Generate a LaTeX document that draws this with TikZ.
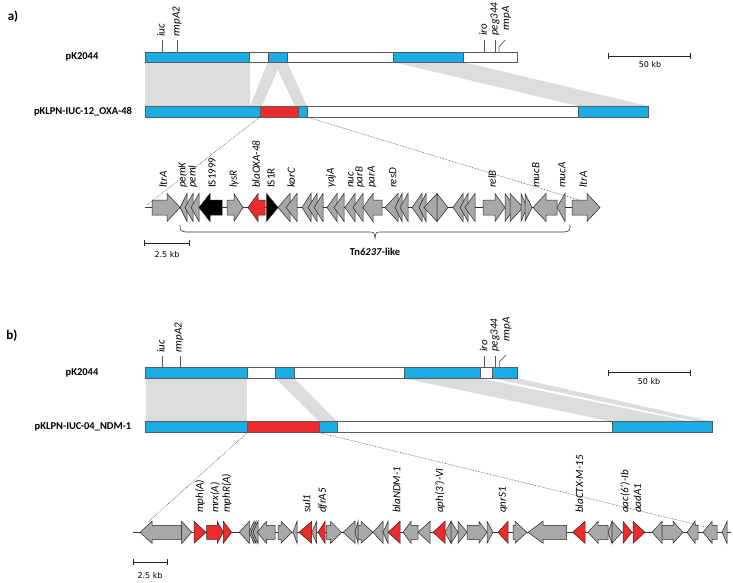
\documentclass[tikz,border=0pt]{standalone}
\usepackage{fontspec}
\setmainfont{Carlito}
\newfontfamily\scalefont{DejaVu Sans}
\usetikzlibrary{arrows.meta}
\definecolor{pblue}{HTML}{1AADE3}
\definecolor{pred}{HTML}{EE2B2B}
\definecolor{ggray}{HTML}{A8A8A8}
\definecolor{shgray}{HTML}{DCDCDC}
\definecolor{outl}{HTML}{5A5A5A}
\newcommand\genF[4]{\filldraw[gene,fill=#4] (#1,\yc-\bh) -- (#2-#3,\yc-\bh) -- (#2-#3,\yc-\hh) -- (#2,\yc) -- (#2-#3,\yc+\hh) -- (#2-#3,\yc+\bh) -- (#1,\yc+\bh) -- cycle;}
\newcommand\genR[4]{\filldraw[gene,fill=#4] (#1,\yc) -- (#1+#3,\yc-\hh) -- (#1+#3,\yc-\bh) -- (#2,\yc-\bh) -- (#2,\yc+\bh) -- (#1+#3,\yc+\bh) -- (#1+#3,\yc+\hh) -- cycle;}
\newcommand\triF[3]{\filldraw[gene,fill=#3] (#1,\yc-\hh) -- (#2,\yc) -- (#1,\yc+\hh) -- cycle;}
\newcommand\triR[3]{\filldraw[gene,fill=#3] (#2,\yc-\hh) -- (#1,\yc) -- (#2,\yc+\hh) -- cycle;}
\tikzset{
  bar/.style={draw=outl, line width=0.8pt},
  gene/.style={draw=black!85, line width=0.5pt},
  bb/.style={draw=black!80, line width=0.6pt},
  tick/.style={draw=outl, line width=0.7pt},
  dots/.style={draw=black!70, densely dotted, line width=0.6pt},
  glab/.style={font=\itshape\fontsize{11}{12}\selectfont, rotate=90, anchor=west, inner sep=0pt},
  glabup/.style={glab, font=\upshape\fontsize{11}{12}\selectfont},
  plab/.style={font=\bfseries\fontsize{10.5}{12}\selectfont, inner sep=0pt},
  slab/.style={font=\scalefont\fontsize{8}{10}\selectfont, inner sep=0pt},
  sbar/.style={{Bar[width=6pt]}-{Bar[width=6pt]}, line width=0.8pt, draw=black!85},
}
\begin{document}
\begin{tikzpicture}[x=1pt,y=-1pt]
\useasboundingbox (0,0) rectangle (733,582);
% ================= panel a =================
\node[font=\bfseries\fontsize{13}{15}\selectfont] (la) at (13,17) {a)};
% shading
\fill[shgray] (145,62) rectangle (250,106);
\fill[shgray] (268,62) -- (281,62) -- (262,106) -- (250,106) -- cycle;
\fill[shgray] (274,62) -- (287,62) -- (307,106) -- (295,106) -- cycle;
\fill[shgray] (393,62) -- (463,62) -- (648,106) -- (578,106) -- cycle;
% top bar
\filldraw[bar,fill=pblue] (145,52) rectangle (249,62);
\filldraw[bar,fill=white] (249,52) rectangle (268,62);
\filldraw[bar,fill=pblue] (268,52) rectangle (287,62);
\filldraw[bar,fill=white] (287,52) rectangle (393,62);
\filldraw[bar,fill=pblue] (393,52) rectangle (463,62);
\filldraw[bar,fill=white] (463,52) rectangle (517,62);
% bottom bar
\filldraw[bar,fill=pblue] (145,106) rectangle (260,117);
\filldraw[bar,fill=pred] (260,106) rectangle (298,117);
\filldraw[bar,fill=pblue] (298,106) rectangle (307,117);
\filldraw[bar,fill=white] (307,106) rectangle (578,117);
\filldraw[bar,fill=pblue] (578,106) rectangle (648,117);
\node[plab] (pa1) at (82,57) {pK2044};
\node[plab] (pa2) at (83,111.5) {pKLPN-IUC-12\_OXA-48};
% ticks
\draw[tick] (162.3,40) -- (162.3,52);
\draw[tick] (177.7,40) -- (177.7,52);
\draw[tick] (484,40) -- (484,52);
\draw[tick] (495.7,40) -- (495.7,52);
\draw[tick] (499,52) -- (499,47) -- (505,40);
\node[glab] at (161,37) {iuc};
\node[glab] at (177,37) {rmpA2};
\node[glab] at (483,36) {iro};
\node[glab] at (495,36) {peg344};
\node[glab] at (506.5,31) {rmpA};
% scale
\draw[sbar] (608,56) -- (691,56);
\node[slab] at (650,65) {50 kb};
% dotted
\draw[dots] (260,117) -- (147,205);
\draw[dots] (307,117) -- (582,201);
% genes
\def\yc{207.5}\def\bh{7.5}\def\hh{14}
\draw[bb] (145,\yc) -- (600,\yc);
\genF{152}{180}{13}{ggray}
\triR{180}{187}{ggray}
\triR{185}{193}{ggray}
\triR{191}{199}{ggray}
\genR{199}{222}{11}{black}
\genF{227}{243}{9}{ggray}
\genR{248}{265}{10}{pred}
\triF{266.5}{278}{black}
\triR{278}{290}{ggray}
\triR{286}{297}{ggray}
\triR{302}{311}{ggray}
\triR{308}{317}{ggray}
\triR{314}{323}{ggray}
\triR{327}{337}{ggray}
\triR{334}{344}{ggray}
\triR{345}{355}{ggray}
\triR{353}{363}{ggray}
\genR{363}{382}{10}{ggray}
\triR{385}{398}{ggray}
\triR{395}{402}{ggray}
\triR{400}{408}{ggray}
\triR{412}{422}{ggray}
\triR{419}{426}{ggray}
\triR{424}{437}{ggray}
\triF{437}{448}{ggray}
\triR{453}{463}{ggray}
\triR{460}{468}{ggray}
\triR{465}{475}{ggray}
\genF{483}{505}{10}{ggray}
\triF{505}{515}{ggray}
\triF{510}{523}{ggray}
\triF{521}{527}{ggray}
\triF{525}{532}{ggray}
\genR{533}{557}{13}{ggray}
\triR{557}{565}{ggray}
\genF{572}{600}{13}{ggray}
% gene labels a
\node[glab] at (163,188) {ltrA};
\node[glab] at (183,188) {pemK};
\node[glab] at (193,188) {pemI};
\node[glabup] at (212,188) {IS1999};
\node[glab] at (234,188) {lysR};
\node[glab] at (256,188) {blaOXA-48};
\node[glabup] at (271,188) {IS1R};
\node[glab] at (291,188) {korC};
\node[glab] at (331,188) {yajA};
\node[glab] at (351,188) {nuc};
\node[glab] at (360,188) {parB};
\node[glab] at (372,188) {parA};
\node[glab] at (393,188) {resD};
\node[glab] at (492,188) {relB};
\node[glab] at (536,188) {mucB};
\node[glab] at (562,188) {mucA};
\node[glab] at (583,188) {ltrA};
% brace
\draw[line width=0.6pt, draw=black!80] (180,225) .. controls (180,231) .. (186,232) -- (369,232) .. controls (374,232) .. (375,238) .. controls (376,232) .. (381,232) -- (564,232) .. controls (570,231) .. (570,225);
\node[plab] (tn) at (375,252) {Tn\textit{6237}-like};
\draw[sbar] (144,243) -- (190,243);
\node[slab] at (167,255) {2.5 kb};
% ================= panel b =================
\node[font=\bfseries\fontsize{13}{15}\selectfont] (lb) at (12,336) {b)};
\fill[shgray] (145.7,378.3) rectangle (247.3,421.7);
\fill[shgray] (275.7,378.3) -- (294.3,378.3) -- (337.3,421.7) -- (319.3,421.7) -- cycle;
\fill[shgray] (404,378.3) -- (480,378.3) -- (690,421.7) -- (612.3,421.7) -- cycle;
\fill[shgray] (492.7,378.3) -- (517.7,378.3) -- (712.3,421.7) -- (697,421.7) -- cycle;
\filldraw[bar,fill=pblue] (145.7,367.7) rectangle (247.3,378.3);
\filldraw[bar,fill=white] (247.3,367.7) rectangle (275.7,378.3);
\filldraw[bar,fill=pblue] (275.7,367.7) rectangle (294.3,378.3);
\filldraw[bar,fill=white] (294.3,367.7) rectangle (404,378.3);
\filldraw[bar,fill=pblue] (404,367.7) rectangle (480,378.3);
\filldraw[bar,fill=white] (480,367.7) rectangle (492.7,378.3);
\filldraw[bar,fill=pblue] (492.7,367.7) rectangle (517.7,378.3);
\filldraw[bar,fill=pblue] (145.7,421.7) rectangle (247.3,432.7);
\filldraw[bar,fill=pred] (247.3,421.7) rectangle (319.3,432.7);
\filldraw[bar,fill=pblue] (319.3,421.7) rectangle (337.3,432.7);
\filldraw[bar,fill=white] (337.3,421.7) rectangle (612.3,432.7);
\filldraw[bar,fill=pblue] (612.3,421.7) rectangle (712.3,432.7);
\node[plab] (pb1) at (82,373) {pK2044};
\node[plab] (pb2) at (83,427) {pKLPN-IUC-04\_NDM-1};
\draw[tick] (162.3,356) -- (162.3,367.7);
\draw[tick] (180,356) -- (180,367.7);
\draw[tick] (484.3,356) -- (484.3,367.7);
\draw[tick] (495.7,356) -- (495.7,367.7);
\draw[tick] (499.3,367.7) -- (499.3,361.7) -- (506,355);
\node[glab] at (161,353) {iuc};
\node[glab] at (179,353) {rmpA2};
\node[glab] at (483.5,352) {iro};
\node[glab] at (495,352) {peg344};
\node[glab] at (507,342) {rmpA};
\draw[sbar] (607.7,372.7) -- (690.7,372.7);
\node[slab] at (649,382) {50 kb};
\draw[dots] (247.3,432.7) -- (148,522);
\draw[dots] (319.3,432.7) -- (710,528);
% genes b
\def\yc{532.3}\def\bh{7}\def\hh{11}
\draw[bb] (133,\yc) -- (731,\yc);
\genR{140}{181.7}{12}{ggray}
\triF{181.7}{191.7}{ggray}
\triF{194}{206}{pred}
\genF{206.7}{223.3}{6}{pred}
\triF{223.3}{231.7}{pred}
\triR{239.3}{249.3}{ggray}
\triR{249}{254}{ggray}
\triR{251}{256}{ggray}
\triR{253}{258}{ggray}
\genR{257.3}{275}{9}{ggray}
\genF{278}{292}{11}{ggray}
\triR{293}{297}{ggray}
\triR{299}{311.7}{pred}
\triR{311.7}{316.7}{ggray}
\triR{318}{325}{pred}
\genF{326.7}{341.7}{11}{ggray}
\triR{343}{355}{ggray}
\triR{355}{358}{ggray}
\genF{358}{373}{12}{ggray}
\triR{373}{383}{ggray}
\triR{383}{388}{ggray}
\triR{388}{400}{pred}
\genR{403}{418}{8}{ggray}
\triR{418}{430}{ggray}
\triR{433}{445}{pred}
\triR{445}{451}{ggray}
\triF{451}{458}{ggray}
\triF{458}{467}{ggray}
\genF{467}{487}{8}{ggray}
\triF{487}{493}{ggray}
\triR{498}{508}{pred}
\genF{513}{527}{12}{ggray}
\genR{528}{566.7}{15}{ggray}
\triR{572.7}{585}{pred}
\genR{588}{608}{10}{ggray}
\triR{608}{612}{ggray}
\triF{612}{622}{ggray}
\triF{623}{632}{pred}
\triF{633}{645}{pred}
\triR{652}{662}{ggray}
\genF{662}{683}{10}{ggray}
\genR{687}{698}{8}{ggray}
\genR{703}{717}{9}{ggray}
\triR{722}{727}{ggray}
% labels b
\node[glab] at (200,513) {mph(A)};
\node[glab] at (215,513) {mrx(A)};
\node[glab] at (226.7,513) {mphR(A)};
\node[glab] at (306.7,513) {sul1};
\node[glab] at (322.7,513) {dfrA5};
\node[glab] at (396.7,513) {blaNDM-1};
\node[glab] at (440,513) {aph(3')-VI};
\node[glab] at (503.3,513) {qnrS1};
\node[glab] at (579.3,513) {blaCTX-M-15};
\node[glab] at (625,513) {aac(6')-Ib};
\node[glab] at (637.3,513) {aadA1};
\draw[sbar] (133,562) -- (168,562);
\node[slab] at (150,576) {2.5 kb};
\end{tikzpicture}
\end{document}
